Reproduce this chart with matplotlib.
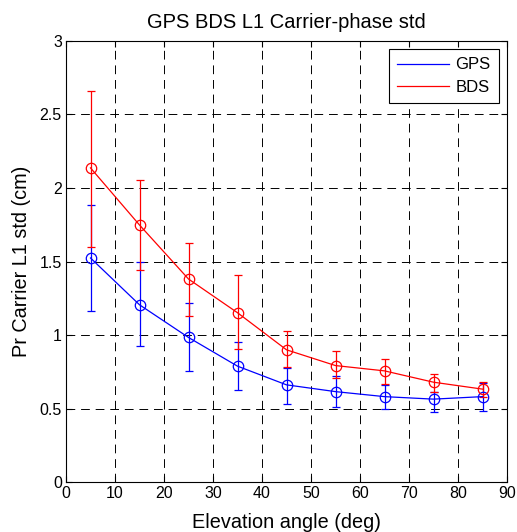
import matplotlib
matplotlib.use("Agg")
import matplotlib.pyplot as plt
import numpy as np

plt.rcParams['font.family'] = ['Liberation Sans', 'DejaVu Sans']

elev = [5, 15, 25, 35, 45, 55, 65, 75, 85]
gps = [1.524, 1.206, 0.984, 0.789, 0.662, 0.616, 0.582, 0.565, 0.582]
gps_hi = [1.882, 1.494, 1.218, 0.952, 0.775, 0.723, 0.662, 0.612, 0.673]
gps_lo = [1.161, 0.925, 0.759, 0.626, 0.531, 0.514, 0.496, 0.476, 0.487]
bds = [2.136, 1.748, 1.381, 1.152, 0.900, 0.793, 0.757, 0.680, 0.633]
bds_hi = [2.657, 2.054, 1.626, 1.408, 1.029, 0.889, 0.837, 0.739, 0.684]
bds_lo = [1.599, 1.442, 1.127, 0.907, 0.782, 0.707, 0.667, 0.616, 0.582]

fig = plt.figure(figsize=(5.17, 5.32), dpi=100)
ax = fig.add_axes([66/517, (532-482.3)/532, (507-66)/517, (482.3-40.7)/532])

def eb(y, lo, hi, color, label):
    y = np.array(y)
    yerr = [y - np.array(lo), np.array(hi) - y]
    ax.errorbar(elev, y, yerr=yerr, color=color, marker='o', markersize=7.5,
                markerfacecolor='none', markeredgecolor=color, markeredgewidth=0.9,
                linewidth=0.9, elinewidth=0.9, capsize=3.2, capthick=0.9, label=label)

eb(gps, gps_lo, gps_hi, 'blue', 'GPS')
eb(bds, bds_lo, bds_hi, 'red', 'BDS')

ax.set_xlim(0, 90)
ax.set_ylim(0, 3)
ax.set_xticks(range(0, 91, 10))
ax.set_yticks([0, 0.5, 1, 1.5, 2, 2.5, 3])
ax.set_yticklabels(['0', '0.5', '1', '1.5', '2', '2.5', '3'])
ax.grid(True, color='black', linestyle=(0, (9, 6)), linewidth=0.7)
ax.tick_params(direction='in', length=4, labelsize=11.5, top=True, right=True, width=0.8, pad=3)
for s in ax.spines.values():
    s.set_linewidth(0.8)

ax.set_title('GPS BDS L1 Carrier-phase std', fontsize=14.5, pad=9)
ax.set_xlabel('Elevation angle (deg)', fontsize=14.3, labelpad=8)
ax.set_ylabel('Pr Carrier L1 std (cm)', fontsize=14.3, labelpad=6)

from matplotlib.lines import Line2D
handles = [Line2D([], [], color='blue', linewidth=0.9), Line2D([], [], color='red', linewidth=0.9)]
leg = ax.legend(handles, ['GPS', 'BDS'], loc='upper right', fontsize=12, fancybox=False,
                edgecolor='black', framealpha=1, handlelength=3.1, borderaxespad=0.5,
                borderpad=0.5, labelspacing=0.45, handletextpad=0.4)
leg.get_frame().set_linewidth(0.8)

fig.savefig('out.png', dpi=100)
